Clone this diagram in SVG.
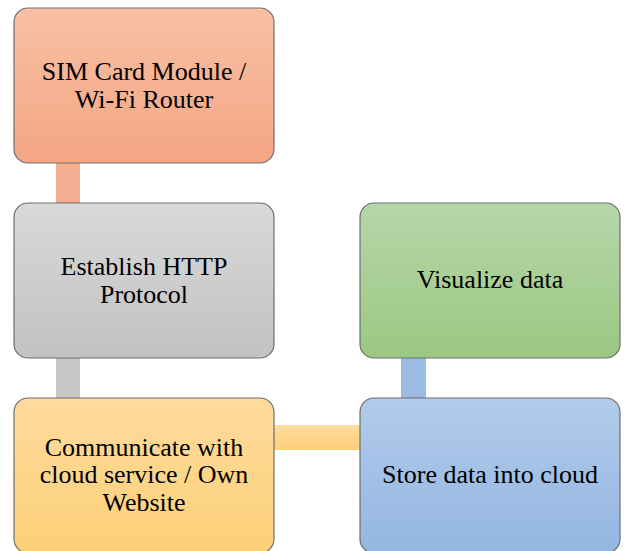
<svg xmlns="http://www.w3.org/2000/svg" width="625" height="551" viewBox="0 0 625 551">
<defs>
<linearGradient id="gOrange" x1="0" y1="0" x2="0" y2="1"><stop offset="0" stop-color="#f7c0a5"/><stop offset="1" stop-color="#f4a683"/></linearGradient>
<linearGradient id="gGray" x1="0" y1="0" x2="0" y2="1"><stop offset="0" stop-color="#d9d9d9"/><stop offset="1" stop-color="#c2c2c2"/></linearGradient>
<linearGradient id="gYellow" x1="0" y1="0" x2="0" y2="1"><stop offset="0" stop-color="#fedb9d"/><stop offset="1" stop-color="#fcd078"/></linearGradient>
<linearGradient id="gBlue" x1="0" y1="0" x2="0" y2="1"><stop offset="0" stop-color="#b2cbea"/><stop offset="1" stop-color="#93b6e2"/></linearGradient>
<linearGradient id="gGreen" x1="0" y1="0" x2="0" y2="1"><stop offset="0" stop-color="#b6d6a9"/><stop offset="1" stop-color="#9bc883"/></linearGradient>
<linearGradient id="gConY" x1="0" y1="0" x2="0" y2="1"><stop offset="0" stop-color="#fedd9f"/><stop offset="1" stop-color="#fdcf79"/></linearGradient>
</defs>
<style>
.box{stroke:#6e6e6e;stroke-width:1.2}
.t{font-family:'Liberation Serif','Times New Roman','DejaVu Serif',serif;font-size:26px;fill:#000;text-anchor:middle}
</style>
<g id="connectors">
<rect x="56" y="163" width="24" height="40" fill="#f5ae8f"/>
<rect x="56" y="358" width="24" height="40" fill="#c6c6c6"/>
<rect x="274" y="425" width="86" height="25" fill="url(#gConY)"/>
<rect x="401" y="358" width="25" height="40" fill="#9bbbe3"/>
</g>
<g id="node-sim">
<rect class="box" x="14" y="8" width="260" height="155" rx="14" fill="url(#gOrange)"/>
<text class="t" font-family="Liberation Serif, serif" x="144" y="80">SIM Card Module /</text>
<text class="t" font-family="Liberation Serif, serif" x="144" y="108">Wi-Fi Router</text>
</g>
<g id="node-http">
<rect class="box" x="14" y="203" width="260" height="155" rx="14" fill="url(#gGray)"/>
<text class="t" x="144" y="275">Establish HTTP</text>
<text class="t" x="144" y="303">Protocol</text>
</g>
<g id="node-communicate">
<rect class="box" x="14" y="398" width="260" height="155" rx="14" fill="url(#gYellow)"/>
<text class="t" x="144" y="456">Communicate with</text>
<text class="t" x="144" y="483">cloud service / Own</text>
<text class="t" x="144" y="511">Website</text>
</g>
<g id="node-store">
<rect class="box" x="360" y="398" width="260" height="155" rx="14" fill="url(#gBlue)"/>
<text class="t" x="490" y="483">Store data into cloud</text>
</g>
<g id="node-visualize">
<rect class="box" x="360" y="203" width="260" height="155" rx="14" fill="url(#gGreen)"/>
<text class="t" x="490" y="288">Visualize data</text>
</g>
</svg>
